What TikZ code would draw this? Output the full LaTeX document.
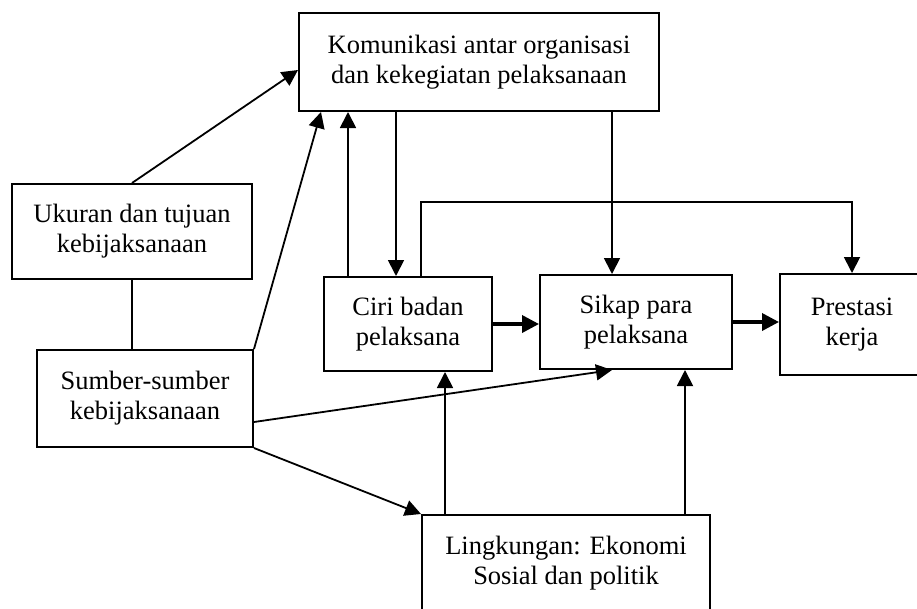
\documentclass[tikz,border=0pt]{standalone}
\usepackage{fontspec}
\setmainfont{Liberation Serif}
\usepackage{tikz}
\usetikzlibrary{arrows.meta}

\begin{document}
\begin{tikzpicture}[x=1pt, y=-1pt,
    box/.style={draw, line width=2pt, inner sep=0pt, align=center,
      font=\fontsize{26.5}{30}\selectfont},
    arr/.style={line width=1.8pt, -{Triangle[length=16pt, width=16pt]}},
    thickarr/.style={line width=3.6pt, -{Triangle[length=17pt, width=17pt]}}]
  \clip (0,0) rectangle (917,608);

  \node[box, minimum width=360pt, minimum height=98pt] (kom) at (479,62) {Komunikasi antar organisasi\\dan kekegiatan pelaksanaan};
  \node[box, minimum width=240pt, minimum height=95pt] (ukuran) at (132,231.5) {Ukuran dan tujuan\\kebijaksanaan};
  \node[box, minimum width=216pt, minimum height=97pt] (sumber) at (145,398.5) {Sumber-sumber\\kebijaksanaan};
  \node[box, minimum width=168pt, minimum height=94pt] (ciri) at (408,324) {Ciri badan\\pelaksana};
  \node[box, minimum width=192pt, minimum height=94pt] (sikap) at (636,322) {Sikap para\\pelaksana};
  \node[box, minimum width=144pt, minimum height=101pt] (prestasi) at (852,324.5) {Prestasi\\kerja};
  \node[box, minimum width=288pt, minimum height=96pt] (lingk) at (566,563) {Lingkungan: Ekonomi\\Sosial dan politik};

  \coordinate (c1) at ([xshift=-60pt]ciri.north);
  \coordinate (c2) at ([xshift=-12pt]ciri.north);
  \coordinate (c3) at ([xshift=13pt]ciri.north);
  \coordinate (k1) at ([xshift=-24pt]sikap.north);
  \coordinate (l1) at ([xshift=-121pt]lingk.north);
  \coordinate (l2) at ([xshift=119pt]lingk.north);

  \draw[arr] (ukuran.north) -- ([yshift=-8pt]kom.west);
  \draw[arr] (sumber.north east) -- ([xshift=23pt]kom.south west);
  \draw[arr] (c1) -- (c1 |- kom.south);
  \draw[arr] (c2 |- kom.south) -- (c2);
  \draw[arr] (k1 |- kom.south) -- (k1);
  \draw[arr] (c3) -- ++(0,-74) -| (prestasi.north);
  \draw[thickarr] (ciri.east) -- (ciri.east -| sikap.west);
  \draw[thickarr] (sikap.east) -- (sikap.east -| prestasi.west);
  \draw[line width=1.8pt] (ukuran.south) -- (ukuran.south |- sumber.north);
  \draw[arr] ([yshift=-23.5pt]sumber.east) -- ([xshift=-24pt]sikap.south);
  \draw[arr] (sumber.south east) -- (lingk.north west);
  \draw[arr] (l1) -- (l1 |- ciri.south);
  \draw[arr] (l2) -- (l2 |- sikap.south);
\end{tikzpicture}
\end{document}
